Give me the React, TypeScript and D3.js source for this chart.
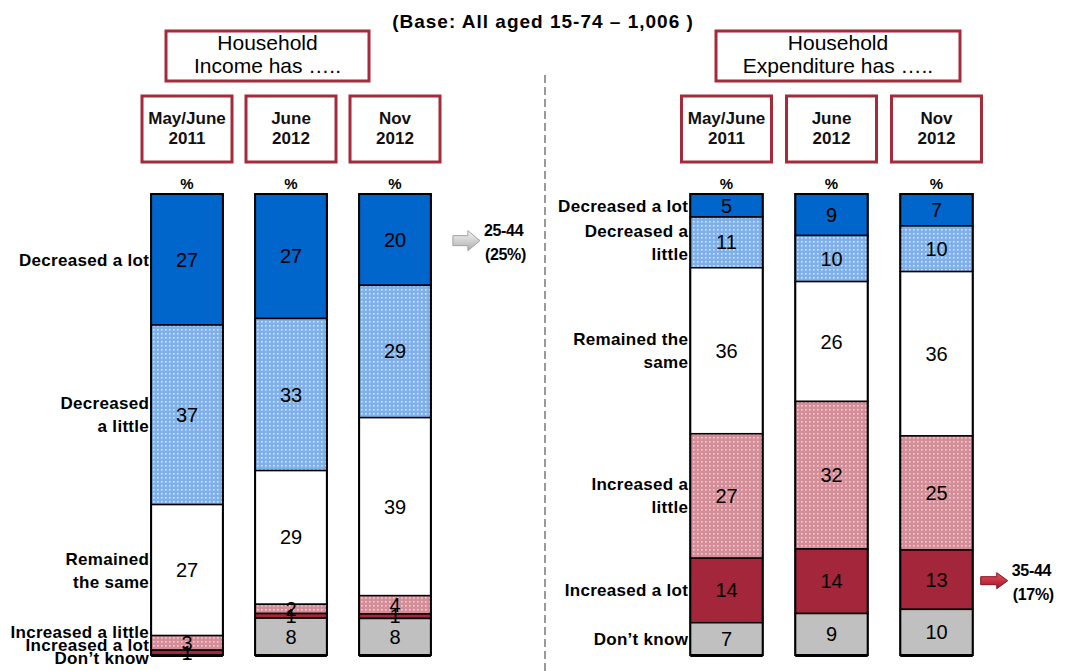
import React from "react";
import * as d3 from "d3";

// ---------- data ----------
const title = "(Base: All aged 15-74 – 1,006 )";
const periods = ["May/June 2011", "June 2012", "Nov 2012"];
const periodLines = [["May/June", "2011"], ["June", "2012"], ["Nov", "2012"]];
const categories = [
  "Decreased a lot",
  "Decreased a little",
  "Remained the same",
  "Increased a little",
  "Increased a lot",
  "Don’t know",
];
const incomeLabelLines = [
  ["Decreased a lot"],
  ["Decreased", "a little"],
  ["Remained", "the same"],
  ["Increased a little"],
  ["Increased a lot"],
  ["Don’t know"],
];
const expenditureLabelLines = [
  ["Decreased a lot"],
  ["Decreased a", "little"],
  ["Remained the", "same"],
  ["Increased a", "little"],
  ["Increased a lot"],
  ["Don’t know"],
];
const incomeMayJune2011 = [27, 37, 27, 3, 1, 0];
const incomeJune2012 = [27, 33, 29, 2, 1, 8];
const incomeNov2012 = [20, 29, 39, 4, 1, 8];
const expenditureMayJune2011 = [5, 11, 36, 27, 14, 7];
const expenditureJune2012 = [9, 10, 26, 32, 14, 9];
const expenditureNov2012 = [7, 10, 36, 25, 13, 10];
const incomeHeader = ["Household", "Income has ….."];
const expenditureHeader = ["Household", "Expenditure has ….."];
const incomeCallout = ["25-44", "(25%)"];
const expenditureCallout = ["35-44", "(17%)"];

// ---------- styles ----------
const FONT = "'Liberation Sans', Arial, sans-serif";
const catFill = ["#0066cc", "url(#dotBlue)", "#ffffff", "url(#dotPink)", "#a3263a", "#c0c0c0"];
const RED = "#a52a3a";

type PanelProps = {
  series: number[][];
  labelLines: string[][];
  header: string[];
  headerX: [number, number];
  bandRange: [number, number];
  callout: string[];
  calloutPeriod: number;
  calloutCat: number;
  calloutGap: number;
  calloutKind: "gray" | "red";
};

const y = d3.scaleLinear().domain([0, 1]).range([194, 655]);

function resolveLabels(items: { y: number; h: number }[], maxBottom: number) {
  type C = { idx: number[]; top: number; H: number };
  const clusters: C[] = [];
  const calcTop = (idx: number[]) => {
    let off = 0;
    let s = 0;
    idx.forEach((i) => {
      s += items[i].y - (off + items[i].h / 2);
      off += items[i].h;
    });
    return s / idx.length;
  };
  items.forEach((it, i) => {
    let c: C = { idx: [i], top: it.y - it.h / 2, H: it.h };
    while (clusters.length) {
      const p = clusters[clusters.length - 1];
      if (p.top + p.H > c.top) {
        clusters.pop();
        const idx = p.idx.concat(c.idx);
        c = { idx, top: calcTop(idx), H: p.H + c.H };
      } else break;
    }
    clusters.push(c);
  });
  const last = clusters[clusters.length - 1];
  if (last && last.top + last.H > maxBottom) last.top = maxBottom - last.H;
  const out: number[] = new Array(items.length);
  clusters.forEach((c) => {
    let off = c.top;
    c.idx.forEach((i) => {
      out[i] = off + items[i].h / 2;
      off += items[i].h;
    });
  });
  return out;
}

function Panel(p: PanelProps) {
  const rows = periods.map((per, i) => {
    const r: any = { period: per };
    categories.forEach((c, j) => (r[c] = p.series[i][j]));
    return r;
  });
  const stacked = d3.stack<any>().keys(categories).offset(d3.stackOffsetExpand)(rows);
  const x = d3
    .scaleBand<string>()
    .domain(periods)
    .range(p.bandRange)
    .paddingInner(0.31)
    .paddingOuter(0.155);
  const bw = x.bandwidth();
  const firstX = x(periods[0])!;

  // category labels from first bar
  const items = categories.map((c, j) => {
    const seg = stacked[j][0];
    const n = p.labelLines[j].length;
    return { y: (y(seg[0]) + y(seg[1])) / 2, h: n === 1 ? 13 : n * 23 };
  });
  const labelY = resolveLabels(items, y(1) + 9);

  const cs = stacked[p.calloutCat][p.calloutPeriod];
  const cy = (y(cs[0]) + y(cs[1])) / 2 + 1;
  const cx = x(periods[p.calloutPeriod])! + bw + p.calloutGap;
  const aw = 27;
  const arrowPath =
    p.calloutKind === "gray"
      ? `M${cx},${cy - 5} H${cx + 15} V${cy - 10} L${cx + aw},${cy + 0} L${cx + 15},${cy + 10} V${cy + 5} H${cx} Z`
      : `M${cx},${cy - 4} H${cx + 16} V${cy - 8} L${cx + aw},${cy} L${cx + 16},${cy + 8} V${cy + 4} H${cx} Z`;

  return (
    <g>
      {/* header box */}
      <rect x={p.headerX[0]} y={31} width={p.headerX[1] - p.headerX[0]} height={50} fill="#fff" stroke={RED} strokeWidth={3} />
      {p.header.map((t, k) => (
        <text key={k} x={(p.headerX[0] + p.headerX[1]) / 2} y={50 + k * 23} textAnchor="middle" fontFamily={FONT} fontSize={21} fill="#000">
          {t}
        </text>
      ))}
      {/* period boxes */}
      {periods.map((per, i) => {
        const c = x(per)! + bw / 2;
        return (
          <g key={per}>
            <rect x={c - 45} y={96} width={90} height={66} fill="#fff" stroke={RED} strokeWidth={3} />
            {periodLines[i].map((t, k) => (
              <text key={k} x={c} y={124 + k * 20} textAnchor="middle" fontFamily={FONT} fontWeight="bold" fontSize={17} fill="#111">
                {t}
              </text>
            ))}
            <text x={c} y={189} textAnchor="middle" fontFamily={FONT} fontWeight="bold" fontSize={15} fill="#000">
              %
            </text>
          </g>
        );
      })}
      {/* bars */}
      {periods.map((per, i) => (
        <g key={per}>
          {stacked.map((s, j) => {
            const d = s[i];
            const h = y(d[1]) - y(d[0]);
            if (h <= 0) return null;
            return (
              <rect key={j} x={x(per)} y={y(d[0])} width={bw} height={h} fill={catFill[j]} stroke="#000" strokeWidth={1.5} />
            );
          })}
          <rect x={x(per)} y={y(0)} width={bw} height={y(1) - y(0)} fill="none" stroke="#000" strokeWidth={2} />
          <line x1={x(per)!} x2={x(per)! + bw} y1={y(1) + 1} y2={y(1) + 1} stroke="#000" strokeWidth={2} />
          {stacked.map((s, j) => {
            const d = s[i];
            const v = p.series[i][j];
            const c = x(per)! + bw / 2;
            if (v === 0) {
              return (
                <text key={"v" + j} x={c} y={y(1) + 8} textAnchor="middle" fontFamily={FONT} fontWeight="bold" fontSize={16} fill="#000">
                  -
                </text>
              );
            }
            return (
              <text key={"v" + j} x={c} y={(y(d[0]) + y(d[1])) / 2 + 7} textAnchor="middle" fontFamily={FONT} fontSize={20} fill="#000">
                {v}
              </text>
            );
          })}
        </g>
      ))}
      {/* category labels */}
      {categories.map((c, j) => {
        const lines = p.labelLines[j];
        return lines.map((t, k) => (
          <text
            key={c + k}
            x={firstX - 2}
            y={labelY[j] + (k - (lines.length - 1) / 2) * 23 + 6}
            textAnchor="end"
            fontFamily={FONT}
            fontWeight="bold"
            fontSize={17}
            letterSpacing={0.3}
            fill="#000"
          >
            {t}
          </text>
        ));
      })}
      {/* callout */}
      <path
        d={arrowPath}
        fill={p.calloutKind === "gray" ? "url(#gradGray)" : "url(#gradRed)"}
        stroke={p.calloutKind === "gray" ? "#a0a0a0" : "#8a1020"}
        strokeWidth={1}
      />
      {p.callout.map((t, k) => (
        <text
          key={k}
          x={cx + aw + (k === 0 ? 4 : 5)}
          y={cy - 5 + k * 24}
          fontFamily={FONT}
          fontWeight="bold"
          fontSize={16}
          letterSpacing={-0.3}
          fill="#000"
        >
          {t}
        </text>
      ))}
    </g>
  );
}

export default function App() {
  return (
    <svg width={1073} height={671} style={{ position: "absolute", left: 0, top: 0, background: "#fff" }}>
      <defs>
        <pattern id="dotBlue" width={4} height={4} patternUnits="userSpaceOnUse">
          <rect width={4} height={4} fill="#7fb0e8" />
          <rect x={1} y={1} width={1.6} height={1.6} fill="#d4e5f9" />
        </pattern>
        <pattern id="dotPink" width={4} height={4} patternUnits="userSpaceOnUse">
          <rect width={4} height={4} fill="#d48e99" />
          <rect x={1} y={1} width={1.6} height={1.6} fill="#f2cdd1" />
        </pattern>
        <linearGradient id="gradGray" x1="0" y1="0" x2="0" y2="1">
          <stop offset="0" stopColor="#f4f4f4" />
          <stop offset="1" stopColor="#b0b0b0" />
        </linearGradient>
        <linearGradient id="gradRed" x1="0" y1="0" x2="0" y2="1">
          <stop offset="0" stopColor="#e8505c" />
          <stop offset="1" stopColor="#a01828" />
        </linearGradient>
      </defs>
      <rect width={1073} height={671} fill="#fff" />
      <text x={543} y={28} textAnchor="middle" fontFamily={FONT} fontWeight="bold" fontSize={19} letterSpacing={1} fill="#000">
        {title}
      </text>
      <line x1={545} x2={545} y1={75} y2={671} stroke="#999" strokeWidth={2} strokeDasharray="8,4" />
      <Panel
        series={[incomeMayJune2011, incomeJune2012, incomeNov2012]}
        labelLines={incomeLabelLines}
        header={incomeHeader}
        headerX={[166, 369]}
        bandRange={[135, 447]}
        callout={incomeCallout}
        calloutPeriod={2}
        calloutCat={0}
        calloutGap={22}
        calloutKind="gray"
      />
      <Panel
        series={[expenditureMayJune2011, expenditureJune2012, expenditureNov2012]}
        labelLines={expenditureLabelLines}
        header={expenditureHeader}
        headerX={[716, 960]}
        bandRange={[674, 989]}
        callout={expenditureCallout}
        calloutPeriod={2}
        calloutCat={4}
        calloutGap={8}
        calloutKind="red"
      />
    </svg>
  );
}
